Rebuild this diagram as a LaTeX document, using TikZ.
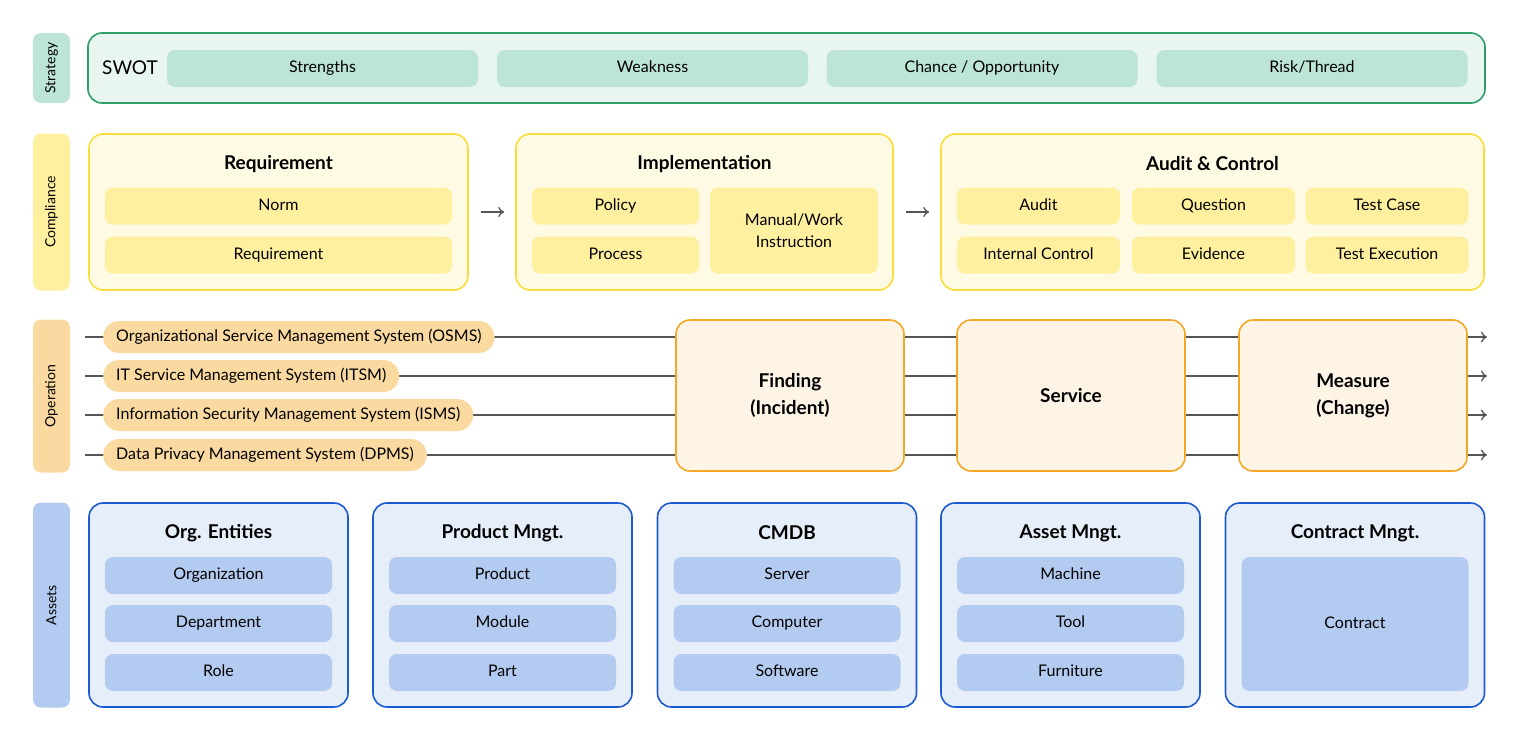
\documentclass[tikz,border=0pt]{standalone}
\usepackage{fontspec}
\setmainfont{Lato}
\usetikzlibrary{arrows.meta}

\definecolor{grnfill}{HTML}{E9F6F0}
\definecolor{grndraw}{HTML}{2E9E68}
\definecolor{grnitem}{HTML}{BDE5D5}
\definecolor{yelfill}{HTML}{FFFAE3}
\definecolor{yeldraw}{HTML}{FBDD3A}
\definecolor{yelitem}{HTML}{FFF09F}
\definecolor{orgfill}{HTML}{FDF4E6}
\definecolor{orgdraw}{HTML}{F4A825}
\definecolor{orgitem}{HTML}{FADAA0}
\definecolor{blufill}{HTML}{E6EEFA}
\definecolor{bludraw}{HTML}{1B5BCF}
\definecolor{bluitem}{HTML}{B3CBF0}
\definecolor{linegray}{HTML}{555555}

\begin{document}
\begin{tikzpicture}[x=1pt,y=-1pt,
    side/.style={rounded corners=8pt, minimum height=37pt, inner sep=0pt, rotate=90, font=\fontsize{14}{16}\selectfont},
    outer/.style={rounded corners=14pt, line width=1.6pt, inner sep=0pt},
    item/.style={rounded corners=8pt, inner sep=0pt, minimum height=37pt, align=center, text height=12pt, text depth=3.5pt, font=\fontsize{16}{22}\selectfont},
    title/.style={font=\fontsize{19}{22}\selectfont\bfseries},
    pill/.style={rounded corners=16pt, fill=orgitem, minimum height=32pt, inner xsep=13pt, anchor=west, text height=12pt, text depth=3.5pt, font=\fontsize{16}{19}\selectfont},
    flow/.style={line width=1.3pt, linegray},
    ]
  \useasboundingbox (0,0) rectangle (1519,742);

  % side labels
  \node[side, fill=grnitem, minimum width=70pt] (strategy) at (51.5,68) {Strategy};
  \node[side, fill=yelitem, minimum width=157pt] (compliance) at (51.5,212) {Compliance};
  \node[side, fill=orgitem, minimum width=153pt] (operation) at (51.5,396) {Operation};
  \node[side, fill=bluitem, minimum width=205pt] (assets) at (51.5,605) {Assets};

  % strategy
  \node[outer, fill=grnfill, draw=grndraw, minimum width=1397pt, minimum height=70pt] (swotbox) at (786.5,68) {};
  \node[font=\fontsize{19}{22}\selectfont] (swot) at (130,68) {SWOT};
  \foreach \x/\t [count=\i] in {322.5/Strengths, 652.5/Weakness, 982/{Chance / Opportunity}, 1312/{Risk/Thread}}
    \node[item, fill=grnitem, minimum width=311pt] (s\i) at (\x,68.5) {\t};

  % compliance
  \node[outer, fill=yelfill, draw=yeldraw, minimum width=379pt, minimum height=156pt] (req) at (278.5,212) {};
  \node[outer, fill=yelfill, draw=yeldraw, minimum width=377pt, minimum height=156pt] (impl) at (704.5,212) {};
  \node[outer, fill=yelfill, draw=yeldraw, minimum width=543pt, minimum height=156pt] (audit) at (1212.5,212) {};
  \node[title] (reqt) at (278.5,164) {Requirement};
  \node[title] (implt) at (704.5,164) {Implementation};
  \node[title] (auditt) at (1212.5,164) {Audit \& Control};
  \node[item, fill=yelitem, minimum width=347pt] (norm) at (278.5,206) {Norm};
  \node[item, fill=yelitem, minimum width=347pt] (req2) at (278.5,255) {Requirement};
  \node[item, fill=yelitem, minimum width=167pt] (policy) at (615.5,206) {Policy};
  \node[item, fill=yelitem, minimum width=167pt] (process) at (615.5,255) {Process};
  \node[item, fill=yelitem, minimum width=168pt, minimum height=86pt, text height=, text depth=] (manual) at (794,230.5) {Manual/Work\\Instruction};
  \foreach \x/\a/\b [count=\i] in {1038.5/Audit/Internal Control, 1213.5/Question/Evidence, 1387/Test Case/Test Execution} {
    \node[item, fill=yelitem, minimum width=163pt] (a\i) at (\x,206) {\a};
    \node[item, fill=yelitem, minimum width=163pt] (b\i) at (\x,255) {\b};
  }
  \draw[flow, -{To[length=6pt,width=10pt]}, shorten <=12pt, shorten >=11pt] (req) -- (impl);
  \draw[flow, -{To[length=6pt,width=10pt]}, shorten <=12pt, shorten >=11pt] (impl) -- (audit);

  % operation
  \foreach \y [count=\i] in {337,376,415,455} {
    \coordinate (l\i) at (85,\y);
    \coordinate (r\i) at (1487,\y);
    \draw[flow, -{To[length=6pt,width=11pt]}] (l\i) -- (r\i);
  }
  \node[pill] (osms) at (103,337) {Organizational Service Management System (OSMS)};
  \node[pill] (itsm) at (103,376) {IT Service Management System (ITSM)};
  \node[pill] (isms) at (103,415) {Information Security Management System (ISMS)};
  \node[pill] (dpms) at (103,455) {Data Privacy Management System (DPMS)};
  \foreach \x/\t/\n in {790/Finding\\(Incident)/finding, 1071/Service/service, 1353/Measure\\(Change)/measure}
    \node[outer, fill=orgfill, draw=orgdraw, minimum width=228pt, minimum height=151pt, align=center, font=\fontsize{19}{27}\selectfont\bfseries] (\n) at (\x,395.5) {\t};

  % assets
  \foreach \x/\t/\a/\b/\c [count=\i] in {218.5/Org. Entities/Organization/Department/Role,
      502.5/Product Mngt./Product/Module/Part, 787/CMDB/Server/Computer/Software,
      1070.5/Asset Mngt./Machine/Tool/Furniture} {
    \node[outer, fill=blufill, draw=bludraw, minimum width=259pt, minimum height=204pt] (box\i) at (\x,605) {};
    \node[title] (head\i) at (\x,533) {\t};
    \node[item, fill=bluitem, minimum width=227pt] (p\i) at (\x,575.5) {\a};
    \node[item, fill=bluitem, minimum width=227pt] (q\i) at (\x,623.5) {\b};
    \node[item, fill=bluitem, minimum width=227pt] (r\i) at (\x,672.5) {\c};
  }
  \node[outer, fill=blufill, draw=bludraw, minimum width=259pt, minimum height=204pt] (box5) at (1355,605) {};
  \node[title] (head5) at (1355,533) {Contract Mngt.};
  \node[item, fill=bluitem, minimum width=227pt, minimum height=134pt] (contract) at (1355,624) {Contract};
\end{tikzpicture}
\end{document}
